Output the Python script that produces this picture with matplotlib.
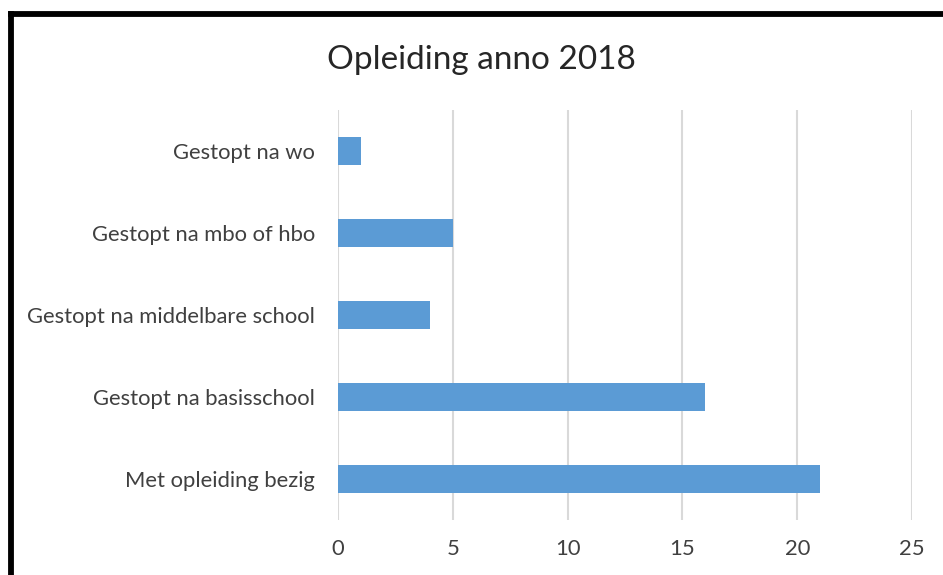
import matplotlib
matplotlib.use("Agg")
import matplotlib.pyplot as plt
from matplotlib.lines import Line2D

categories = ["Met opleiding bezig", "Gestopt na basisschool", "Gestopt na middelbare school",
              "Gestopt na mbo of hbo", "Gestopt na wo"]
values = [21, 16, 4, 5, 1]
xticks = [0, 5, 10, 15, 20, 25]
title = "Opleiding anno 2018"

W, H = 943, 575
fig = plt.figure(figsize=(W / 100, H / 100), dpi=100)
plt.rcParams['font.family'] = ['Lato', 'DejaVu Sans']

ax = fig.add_axes([338 / W, 1 - 520 / H, (912 - 338) / W, (520 - 110) / H])
ax.barh(range(len(categories)), values, height=0.34, color="#5b9bd5", zorder=3)
ax.set_xlim(0, 25)
ax.set_ylim(-0.5, len(categories) - 0.5)
ax.set_xticks(xticks)
ax.set_xticklabels([str(t) for t in xticks])
ax.set_yticks(range(len(categories)))
ax.set_yticklabels(categories)
ax.grid(axis="x", color="#d9d9d9", linewidth=1.5, zorder=0)
for s in ax.spines.values():
    s.set_visible(False)
ax.tick_params(axis="both", length=0, labelsize=15.8, colors="#404040")
ax.tick_params(axis="x", pad=14)
ax.tick_params(axis="y", pad=16.5)

fig.text(481 / W, 1 - 60 / H, title, ha="center", va="center", fontsize=24, color="#262626")

# outer black border (left and top visible)
fig.add_artist(Line2D([10.5 / W, 10.5 / W], [0, 1 - 14 / H], transform=fig.transFigure,
                      color="black", linewidth=4.2, solid_capstyle="projecting"))
fig.add_artist(Line2D([10.5 / W, 1.0], [1 - 14 / H, 1 - 14 / H], transform=fig.transFigure,
                      color="black", linewidth=4.2, solid_capstyle="projecting"))

fig.savefig("out.png", dpi=100)
